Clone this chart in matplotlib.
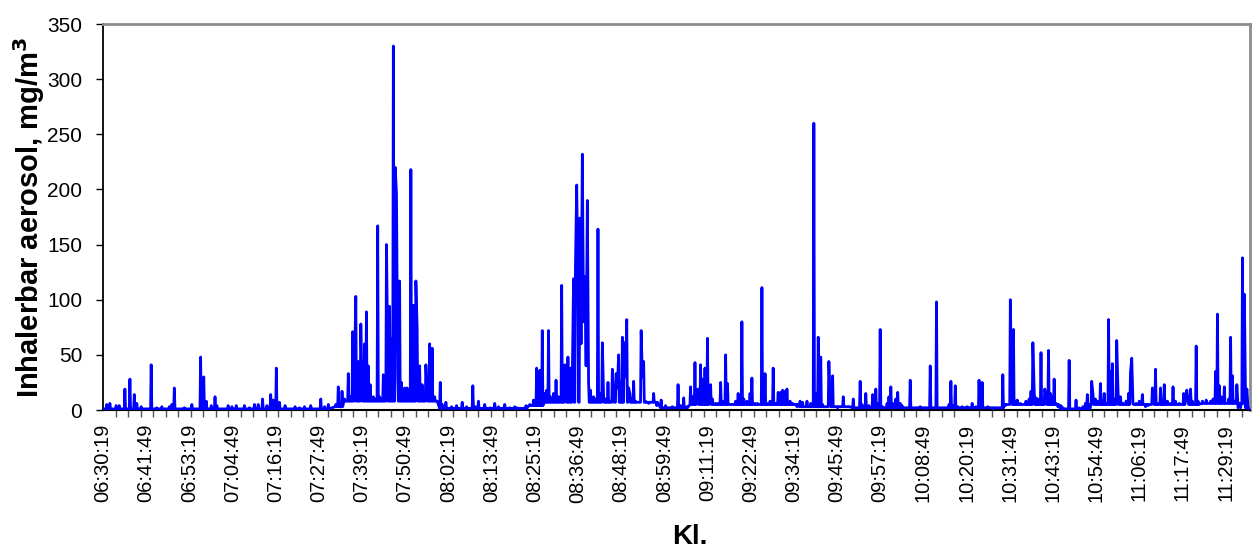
import numpy as np
import matplotlib
matplotlib.use("Agg")
import matplotlib.pyplot as plt

plt.rcParams['font.family'] = ['Liberation Sans', 'DejaVu Sans']

# Time axis labels (clock time), one every 690 s starting 06:30:19
tick_labels = ["06:30:19", "06:41:49", "06:53:19", "07:04:49", "07:16:19", "07:27:49",
               "07:39:19", "07:50:49", "08:02:19", "08:13:49", "08:25:19", "08:36:49",
               "08:48:19", "08:59:49", "09:11:19", "09:22:49", "09:34:19", "09:45:49",
               "09:57:19", "10:08:49", "10:20:19", "10:31:49", "10:43:19", "10:54:49",
               "11:06:19", "11:17:49", "11:29:19"]
label_step_s = 690
minor_step_s = 200
end_s = 18330

# Readings: seconds after 06:30:19 and concentration (mg/m3)
reading_s = [0, 60, 110, 210, 260, 350, 430, 500, 540, 610, 770, 860, 940, 1060, 1100, 1140, 1300, 1420,
             1560, 1610, 1650, 1730, 1790, 1820, 2000, 2060, 2130, 2260, 2340, 2420, 2480, 2550, 2620,
             2680, 2720, 2770, 2820, 2910, 3070,
             3140, 3220, 3320, 3480, 3540, 3600, 3720, 3760, 3820, 3860, 3920, 3950, 3990, 4020, 4040,
             4080, 4120, 4140, 4180, 4210, 4240, 4270, 4320, 4350, 4390, 4420, 4450, 4480, 4530, 4550,
             4580, 4610, 4640, 4670, 4690, 4710, 4740, 4770, 4820, 4860, 4920, 4960, 5000, 5020, 5060,
             5100, 5160, 5180, 5220, 5260, 5300, 5330, 5390, 5420, 5480, 5570, 5650, 5740, 5810, 5910,
             5950, 6000, 6100,
             6190, 6260, 6320, 6420, 6500, 6580, 6620, 6760, 6820, 6880, 6930, 6980, 7020, 7060, 7090,
             7120, 7150, 7200, 7240, 7280, 7330, 7380, 7400, 7430, 7470, 7500, 7520, 7550, 7570, 7590,
             7620, 7640, 7660, 7680, 7700, 7720, 7740, 7760, 7790, 7840, 7870, 7910, 7940, 7980, 8000,
             8030, 8070, 8100, 8140, 8160, 8200, 8220, 8240, 8270, 8300, 8330, 8350, 8370, 8400, 8420,
             8450, 8480, 8510, 8560, 8600, 8620, 8640, 8670, 8720, 8800, 8850, 8920, 8990, 9100, 9190,
             9230, 9280, 9330, 9390, 9420, 9460, 9490, 9510, 9550, 9580, 9620, 9660, 9690, 9710, 9740,
             9790, 9830, 9870, 9900, 9950, 9980, 10020, 10080, 10110, 10150, 10180, 10210, 10240, 10290,
             10340, 10370, 10420, 10460, 10500, 10530, 10580, 10610, 10660, 10710, 10750, 10790, 10830,
             10860, 10900, 10930, 10980, 11020, 11090, 11140, 11180, 11250, 11310, 11360, 11390, 11430,
             11470, 11500, 11550, 11600, 11620, 11660, 11700, 11740, 11830, 11870, 11920, 11990, 12030,
             12100, 12130, 12190, 12240,
             12300, 12350, 12380, 12420, 12460, 12530, 12560, 12590, 12620, 12670, 12700, 12740, 12770,
             12830, 12900, 12940, 13060, 13140, 13220, 13260, 13320, 13360, 13470, 13520, 13550, 13580,
             13620, 13660, 13730, 13810, 13890, 13950, 14000, 14050, 14100, 14140, 14220, 14340, 14380,
             14420, 14460, 14500, 14520, 14550, 14580, 14610, 14660, 14700, 14750, 14800, 14830, 14860,
             14880, 14910, 14940, 14990, 15020, 15050, 15070, 15110, 15140, 15170, 15200, 15230, 15260,
             15310, 15340, 15390, 15440, 15470, 15550, 15600, 15660, 15700, 15730, 15760, 15800, 15820,
             15860, 15890, 15940, 15970, 16000, 16030, 16070, 16100, 16130, 16160, 16200, 16220, 16260,
             16300, 16350, 16390, 16420, 16440, 16460, 16510, 16560, 16610, 16660, 16700, 16770, 16790,
             16820, 16850, 16900, 16930, 16960, 17010, 17060, 17100, 17140, 17200, 17270, 17300, 17320,
             17340, 17380, 17410, 17470, 17500, 17570, 17630, 17700, 17740, 17780, 17810, 17840, 17870,
             17920, 17950, 17990, 18020, 18050, 18080, 18120, 18140, 18180, 18210, 18240, 18260, 18280,
             18300, 18320]

reading_mg = [1, 5, 6, 4, 4, 19, 28, 14, 6, 3, 41, 2, 3, 3, 5, 20, 2, 5,
              48, 30, 8, 4, 12, 4, 4, 3, 4, 4, 2, 5, 5, 10, 4,
              14, 9, 38, 7, 4, 3,
              2, 3, 4, 10, 3, 5, 5, 21, 17, 10, 33, 12, 71, 40, 103,
              44, 78, 20, 60, 89, 40, 23, 12, 10, 167, 12, 10, 32, 150, 60,
              94, 65, 330, 220, 196, 30, 117, 25, 20, 20, 218, 95, 117, 75, 40,
              23, 41, 15, 60, 56, 12, 8, 25, 5, 7, 3, 4, 7, 3, 22,
              3, 8, 5,
              2, 6, 3, 5, 2, 3, 2, 4, 5, 9, 38, 36, 72, 15, 18,
              72, 12, 15, 27, 12, 113, 41, 20, 48, 38, 30, 119, 130, 204, 120,
              174, 60, 232, 80, 121, 40, 190, 25, 18, 12, 10, 164, 15, 61, 12,
              10, 25, 8, 37, 12, 33, 20, 50, 25, 66, 61, 30, 82, 20, 15,
              10, 26, 8, 7, 72, 30, 44, 8, 6, 15, 4, 9, 4, 3, 23,
              4, 11, 3, 21, 12, 43, 15, 19, 41, 28, 38, 65, 15, 23, 10,
              6, 6, 25, 8, 50, 24, 5, 5, 8, 15, 8, 80, 10, 8,
              15, 29, 6, 6, 5, 111, 33, 6, 8, 38, 6, 16, 16,
              18, 17, 19, 8, 6, 3, 8, 7, 8, 6, 260, 15, 66,
              48, 5, 3, 44, 10, 31, 3, 2, 12, 3, 3, 10, 2,
              26, 5, 15, 4,
              14, 19, 6, 73, 3, 6, 12, 21, 6, 10, 16, 6, 4,
              2, 27, 2, 3, 1, 40, 2, 98, 2, 2, 5, 26, 4,
              22, 3, 3, 3, 6, 3, 27, 25, 2, 3, 1, 2, 32,
              4, 5, 100, 20, 73, 8, 9, 6, 5, 8, 10, 17, 61,
              20, 11, 10, 52, 8, 19, 12, 54, 15, 12, 28, 6, 3,
              4, 2, 1, 45, 1, 9, 2, 3, 6, 14, 5, 26, 15,
              10, 8, 24, 8, 15, 6, 82, 35, 42, 10, 63, 19, 12,
              6, 8, 15, 34, 47, 6, 6, 8, 14, 3, 4, 20, 6,
              37, 6, 20, 6, 23, 8, 6, 21, 8, 6, 15, 8, 18,
              8, 19, 8, 58, 8, 8, 9, 8, 10, 35, 87, 22, 12,
              21, 6, 10, 66, 31, 8, 23, 2, 2, 138, 105, 2, 19,
              1, 1]

# Background (between-peak) level, stepwise
floor_from_s = [0, 3620, 3860, 5380, 6820, 7060, 8900, 9380, 11140, 11940, 14420, 15300, 15780, 17540]
floor_mg = [1, 3, 8, 1.5, 4, 7, 2, 5, 3, 2, 5, 1, 5, 6]

assert len(reading_s) == len(reading_mg)

# Assemble line: each reading returns to the local background level between peaks
ts, vs = [], []
n = len(reading_s)
for i, (t, v) in enumerate(zip(reading_s, reading_mg)):
    fl = floor_mg[np.searchsorted(floor_from_s, t, side='right') - 1]
    if i > 0 and t - reading_s[i - 1] > 20:
        ts.append(t - 10); vs.append(fl)
    ts.append(t); vs.append(v)
    if i < n - 1 and reading_s[i + 1] - t > 20:
        ts.append(t + 10); vs.append(fl)

W, H = 1256, 549
fig = plt.figure(figsize=(W / 100, H / 100), dpi=100)
ax = fig.add_axes([103 / W, 1 - 410 / H, (1250 - 103) / W, (410 - 24) / H])

ax.plot(ts, vs, color='#0000FF', lw=2.0, zorder=3)

ax.set_xlim(0, end_s)
ax.set_ylim(0, 350)

for side in ('top', 'right'):
    ax.spines[side].set_color('#8c8c8c')
    ax.spines[side].set_linewidth(2.0)
ax.spines['left'].set_color('black')
ax.spines['left'].set_linewidth(1.3)
ax.spines['bottom'].set_color('black')
ax.spines['bottom'].set_linewidth(1.5)

ax.set_yticks(np.arange(0, 351, 50))
ax.tick_params(axis='y', direction='out', length=5, width=1.0, labelsize=15, pad=10)

major_pos = np.arange(len(tick_labels)) * label_step_s
ax.set_xticks(major_pos)
ax.set_xticklabels(tick_labels, rotation=90)
ax.tick_params(axis='x', which='major', length=0, labelsize=14.5, pad=10)
ax.set_xticks(np.arange(0, end_s, minor_step_s), minor=True)
ax.tick_params(axis='x', which='minor', direction='out', length=5, width=1.0, color='#555555')

ax.set_ylabel('Inhalerbar aerosol, mg/m$^\\mathbf{3}$', fontsize=21, fontweight='bold')
ax.yaxis.label.set_va('center')
ax.yaxis.set_label_coords(-0.0645, 0.5)
ax.set_xlabel('Kl.', fontsize=20, fontweight='bold')
ax.xaxis.label.set_va('center')
ax.xaxis.set_label_coords(0.512, -0.329)

fig.savefig('out.png', dpi=100)
